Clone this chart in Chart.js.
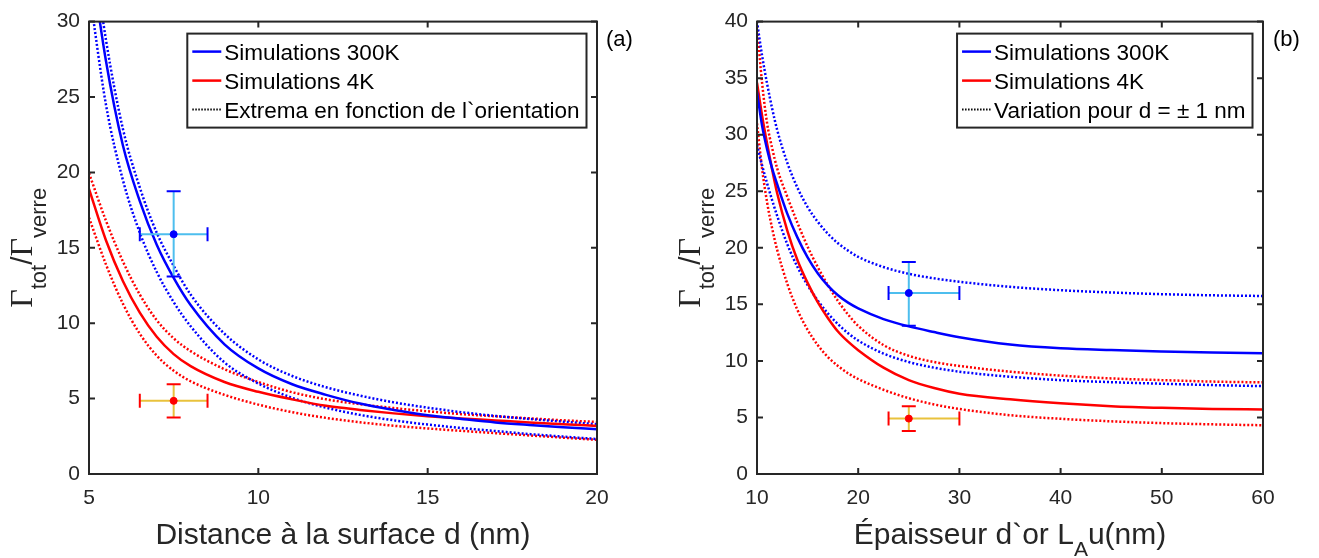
<!DOCTYPE html>
<html>
<head>
<meta charset="utf-8">
<script src="https://cdn.jsdelivr.net/npm/chart.js@4.4.1/dist/chart.umd.min.js"></script>
<style>
  html, body { margin: 0; padding: 0; background: #fff; }
  #wrap { position: relative; width: 1319px; height: 558px; overflow: hidden; }
  canvas { position: absolute; top: 0; }
</style>
</head>
<body>
<div id="wrap">
  <canvas id="chartA" width="660" height="558" style="left:0px"></canvas>
  <canvas id="chartB" width="659" height="558" style="left:660px"></canvas>
</div>
<script>
// ---- (a) distance to surface ----
const dLeft = [5, 5.5, 6, 6.5, 7, 7.5, 8, 9, 10, 11, 12, 13, 14, 15, 16, 17, 18, 19, 20];
const sim300Left    = [35.0, 27.4, 21.8, 18.1, 15.2, 13.0, 11.2, 8.6, 7.0, 5.95, 5.25, 4.67, 4.25, 3.9, 3.65, 3.42, 3.25, 3.1, 2.97];
const sim300LeftMax = [36.8, 28.8, 22.9, 19.0, 16.0, 13.8, 11.9, 9.3, 7.6, 6.5, 5.75, 5.2, 4.75, 4.4, 4.1, 3.85, 3.65, 3.47, 3.3];
const sim300LeftMin = [32.2, 24.5, 19.5, 16.0, 13.4, 11.4, 9.8, 7.4, 6.0, 5.05, 4.4, 3.92, 3.56, 3.28, 3.05, 2.85, 2.65, 2.48, 2.32];
const sim4Left      = [18.9, 15.5, 12.8, 10.7, 9.1, 7.95, 7.15, 6.1, 5.45, 4.95, 4.52, 4.25, 4.02, 3.83, 3.68, 3.55, 3.42, 3.3, 3.19];
const sim4LeftMax   = [19.95, 16.8, 14.1, 11.9, 10.2, 9.0, 8.15, 6.95, 6.1, 5.42, 4.95, 4.63, 4.37, 4.16, 3.97, 3.83, 3.69, 3.56, 3.45];
const sim4LeftMin   = [17.0, 13.9, 11.3, 9.3, 7.85, 6.85, 6.15, 5.25, 4.6, 4.1, 3.72, 3.43, 3.2, 3.02, 2.86, 2.71, 2.56, 2.41, 2.27];
const expLeft300 = { x: 7.5, y: 15.9, xErr: [6.5, 8.5], yErr: [13.1, 18.75] };
const expLeft4   = { x: 7.5, y: 4.85, xErr: [6.5, 8.5], yErr: [3.75, 5.95] };

// ---- (b) gold thickness ----
const dRight = [10, 10.5, 11, 11.5, 12, 13, 14, 15, 16, 17, 18, 19, 20, 22.5, 25, 27.5, 30, 35, 40, 45, 50, 55, 60];
const sim300Right    = [33.8, 30.8, 28.7, 27.0, 25.6, 23.0, 20.9, 19.15, 17.75, 16.65, 15.8, 15.15, 14.65, 13.7, 13.05, 12.55, 12.1, 11.45, 11.12, 10.96, 10.84, 10.74, 10.67];
const sim300RightMax = [40.0, 37.0, 34.5, 32.3, 30.4, 27.5, 25.3, 23.6, 22.3, 21.25, 20.4, 19.75, 19.2, 18.3, 17.7, 17.3, 17.0, 16.55, 16.25, 16.05, 15.9, 15.8, 15.74];
const sim300RightMin = [29.1, 27.3, 25.7, 24.2, 22.8, 20.3, 18.3, 16.7, 15.35, 14.2, 13.25, 12.45, 11.8, 10.65, 9.9, 9.4, 9.05, 8.6, 8.3, 8.12, 7.98, 7.86, 7.77];
const sim4Right      = [34.6, 31.7, 29.2, 26.9, 24.8, 21.5, 18.9, 16.9, 15.2, 13.8, 12.6, 11.7, 10.95, 9.4, 8.3, 7.6, 7.1, 6.6, 6.25, 6.0, 5.85, 5.75, 5.7];
const sim4RightMax   = [39.6, 34.6, 31.0, 28.8, 27.0, 24.5, 22.2, 20.1, 18.3, 16.7, 15.3, 14.1, 13.1, 11.4, 10.45, 9.9, 9.55, 9.05, 8.7, 8.45, 8.3, 8.17, 8.1];
const sim4RightMin   = [31.0, 27.0, 24.0, 21.7, 19.8, 16.8, 14.5, 12.75, 11.4, 10.35, 9.55, 8.9, 8.4, 7.45, 6.7, 6.15, 5.75, 5.2, 4.88, 4.66, 4.5, 4.39, 4.31];
const expRight300 = { x: 25, y: 16.0, xErr: [23, 30], yErr: [13.1, 18.75] };
const expRight4   = { x: 25, y: 4.9, xErr: [23, 30], yErr: [3.8, 6.0] };

const BLUE = '#0000ff';
const RED = '#ff0000';
const CYAN = '#4dbeee';
const YELLOW = '#e9c23c';
const AXIS = '#262626';
const SANS = "'Liberation Sans', Arial, Helvetica, sans-serif";
const SERIF = "'Liberation Serif', 'Times New Roman', serif";

function pts(xs, ys) {
    return xs.map((x, i) => ({ x, y: ys[i] }));
}

function curve(xs, ys, color, dotted) {
    return {
        type: 'line',
        data: pts(xs, ys),
        borderColor: color,
        borderWidth: 2.5,
        borderDash: dotted ? [2, 2] : [],
        pointRadius: 0,
        cubicInterpolationMode: 'monotone',
        fill: false,
        order: 5
    };
}

function errorBar(e, barColor, markColor) {
    return [
        { type: 'scatter', data: [{ x: e.x, y: e.y }], pointStyle: 'circle', pointRadius: 3.5,
          pointBackgroundColor: markColor, pointBorderColor: markColor, order: 0 },
        { type: 'scatter', data: [{ x: e.x, y: e.yErr[0] }, { x: e.x, y: e.yErr[1] }], pointStyle: 'line',
          pointRadius: 7, pointBorderColor: markColor, pointBorderWidth: 2, order: 1 },
        { type: 'scatter', data: [{ x: e.xErr[0], y: e.y }, { x: e.xErr[1], y: e.y }], pointStyle: 'line',
          pointRotation: 90, pointRadius: 7, pointBorderColor: markColor, pointBorderWidth: 2, order: 1 },
        { type: 'line', data: [{ x: e.x, y: e.yErr[0] }, { x: e.x, y: e.yErr[1] }], borderColor: barColor,
          borderWidth: 2, pointRadius: 0, order: 2 },
        { type: 'line', data: [{ x: e.xErr[0], y: e.y }, { x: e.xErr[1], y: e.y }], borderColor: barColor,
          borderWidth: 2, pointRadius: 0, order: 2 }
    ];
}

// draws a run of text pieces with their own font and baseline shift
function drawRich(ctx, segs, x, y) {
    let w = 0;
    segs.forEach(s => { ctx.font = s.font; s.w = ctx.measureText(s.text).width; w += s.w; });
    let cx = x - w / 2;
    segs.forEach(s => {
        ctx.font = s.font;
        ctx.fillText(s.text, cx, y + (s.dy || 0));
        cx += s.w;
    });
}

const yTitle = [
    { text: 'Γ', font: `32px ${SERIF}` },
    { text: 'tot', font: `22px ${SANS}`, dy: 14 },
    { text: '/', font: `30px ${SANS}` },
    { text: 'Γ', font: `32px ${SERIF}` },
    { text: 'verre', font: `22px ${SANS}`, dy: 14 }
];

// MATLAB-like frame, inward ticks, boxed legend, titles
const matlabLook = {
    id: 'matlabLook',
    afterDraw(chart, args, opts) {
        const ctx = chart.ctx;
        const a = chart.chartArea;
        const xs = chart.scales.x;
        const ys = chart.scales.y;
        ctx.save();

        ctx.strokeStyle = AXIS;
        ctx.lineWidth = 2;
        ctx.beginPath();
        xs.ticks.forEach(t => {
            const px = xs.getPixelForValue(t.value);
            ctx.moveTo(px, a.bottom); ctx.lineTo(px, a.bottom - 6);
            ctx.moveTo(px, a.top); ctx.lineTo(px, a.top + 6);
        });
        ys.ticks.forEach(t => {
            const py = ys.getPixelForValue(t.value);
            ctx.moveTo(a.left, py); ctx.lineTo(a.left + 6, py);
            ctx.moveTo(a.right, py); ctx.lineTo(a.right - 6, py);
        });
        ctx.stroke();
        ctx.strokeRect(a.left, a.top, a.right - a.left, a.bottom - a.top);

        // legend box
        ctx.font = `22.5px ${SANS}`;
        const textW = Math.max(...opts.legend.map(l => ctx.measureText(l.text).width));
        const lineLen = 29;
        const boxW = 5 + lineLen + 3 + textW + 7;
        const boxRight = a.right - 10.5;
        const boxTop = a.top + 12;
        const boxH = 94;
        ctx.fillStyle = '#fff';
        ctx.fillRect(boxRight - boxW, boxTop, boxW, boxH);
        ctx.strokeStyle = AXIS;
        ctx.lineWidth = 2;
        ctx.strokeRect(boxRight - boxW, boxTop, boxW, boxH);
        opts.legend.forEach((l, i) => {
            const ry = boxTop + 18 + i * 29;
            const lx = boxRight - boxW + 5;
            ctx.beginPath();
            ctx.strokeStyle = l.color;
            ctx.lineWidth = l.dotted ? 2 : 2.5;
            ctx.setLineDash(l.dotted ? [1.5, 1.5] : []);
            ctx.moveTo(lx, ry); ctx.lineTo(lx + lineLen, ry);
            ctx.stroke();
            ctx.setLineDash([]);
            ctx.fillStyle = '#000';
            ctx.textBaseline = 'alphabetic';
            ctx.textAlign = 'left';
            ctx.fillText(l.text, lx + lineLen + 3, ry + 8);
        });

        // panel letter
        ctx.fillStyle = '#000';
        ctx.font = `22px ${SANS}`;
        ctx.textAlign = 'left';
        ctx.fillText(opts.letter, a.right + opts.letterGap, a.top + 24);

        // x title
        ctx.fillStyle = AXIS;
        ctx.textAlign = 'left';
        drawRich(ctx, opts.xTitle, (a.left + a.right) / 2, 544);

        // y title
        ctx.translate(opts.yTitleX, (a.top + a.bottom) / 2);
        ctx.rotate(-Math.PI / 2);
        drawRich(ctx, yTitle, 0, 0);

        ctx.restore();
    }
};

function makeChart(id, cfg) {
    const datasets = [
        ...errorBar(cfg.exp300, CYAN, BLUE),
        ...errorBar(cfg.exp4, YELLOW, RED),
        curve(cfg.d, cfg.s300, BLUE, false),
        curve(cfg.d, cfg.s4, RED, false),
        curve(cfg.d, cfg.s300Max, BLUE, true),
        curve(cfg.d, cfg.s300Min, BLUE, true),
        curve(cfg.d, cfg.s4Max, RED, true),
        curve(cfg.d, cfg.s4Min, RED, true)
    ];
    return new Chart(document.getElementById(id), {
        type: 'line',
        data: { datasets },
        options: {
            responsive: false,
            devicePixelRatio: 1,
            animation: false,
            layout: { padding: { left: 0, top: 19, right: cfg.padRight, bottom: 0 } },
            plugins: {
                legend: { display: false },
                tooltip: { enabled: false },
                matlabLook: cfg.look
            },
            scales: {
                x: {
                    type: 'linear',
                    min: cfg.xRange[0], max: cfg.xRange[1],
                    grid: { display: false, drawTicks: false },
                    border: { display: false },
                    ticks: { stepSize: cfg.xStep, padding: 12, color: AXIS, font: { size: 21, family: SANS } },
                    afterFit: s => { s.height = 84; }
                },
                y: {
                    type: 'linear',
                    min: cfg.yRange[0], max: cfg.yRange[1],
                    grid: { display: false, drawTicks: false },
                    border: { display: false },
                    ticks: { stepSize: 5, padding: 9, color: AXIS, font: { size: 21, family: SANS } },
                    afterFit: s => { s.width = cfg.yWidth; }
                }
            }
        },
        plugins: [matlabLook]
    });
}

makeChart('chartA', {
    d: dLeft, s300: sim300Left, s4: sim4Left,
    s300Max: sim300LeftMax, s300Min: sim300LeftMin, s4Max: sim4LeftMax, s4Min: sim4LeftMin,
    exp300: expLeft300, exp4: expLeft4,
    xRange: [5, 20], xStep: 5, yRange: [0, 30], yWidth: 89, padRight: 63,
    look: {
        letter: '(a)', letterGap: 9, yTitleX: 32,
        xTitle: [{ text: 'Distance à la surface d (nm)', font: `30px ${SANS}` }],
        legend: [
            { text: 'Simulations 300K', color: BLUE },
            { text: 'Simulations 4K', color: RED },
            { text: 'Extrema en fonction de l`orientation', color: '#000', dotted: true }
        ]
    }
});

makeChart('chartB', {
    d: dRight, s300: sim300Right, s4: sim4Right,
    s300Max: sim300RightMax, s300Min: sim300RightMin, s4Max: sim4RightMax, s4Min: sim4RightMin,
    exp300: expRight300, exp4: expRight4,
    xRange: [10, 60], xStep: 10, yRange: [0, 40], yWidth: 97, padRight: 56,
    look: {
        letter: '(b)', letterGap: 10, yTitleX: 40,
        xTitle: [
            { text: 'Épaisseur d`or L', font: `30px ${SANS}` },
            { text: 'A', font: `21px ${SANS}`, dy: 12 },
            { text: 'u(nm)', font: `30px ${SANS}` }
        ],
        legend: [
            { text: 'Simulations 300K', color: BLUE },
            { text: 'Simulations 4K', color: RED },
            { text: 'Variation pour d = ± 1 nm', color: '#000', dotted: true }
        ]
    }
});
</script>
</body>
</html>
